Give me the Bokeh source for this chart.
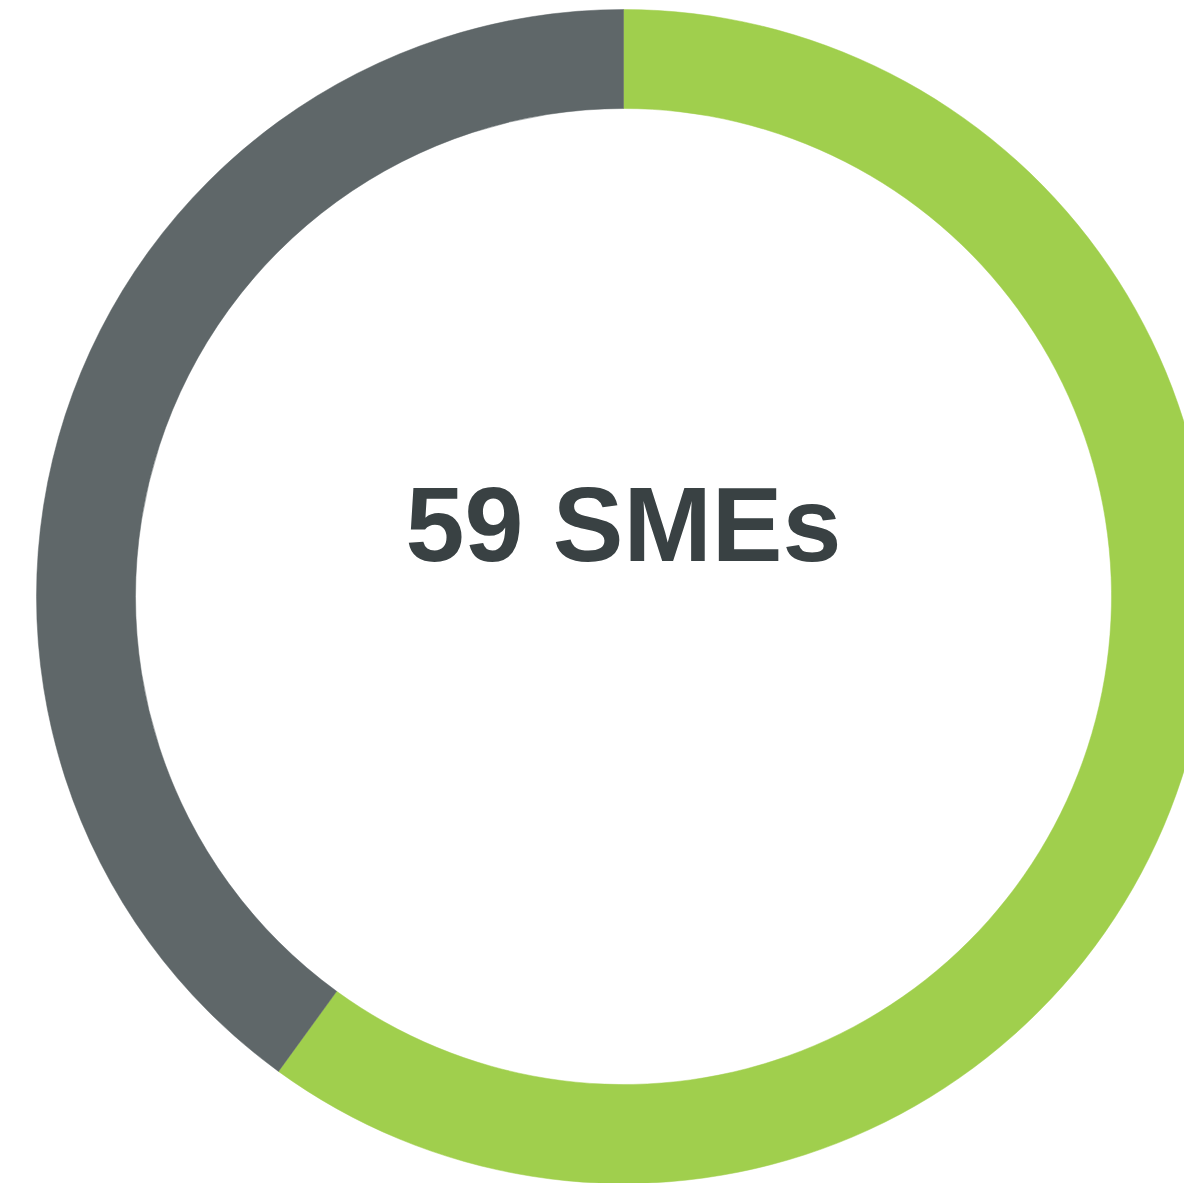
import numpy as np
from bokeh.plotting import figure
from bokeh.models import Range1d, ColumnDataSource
from bokeh.core.properties import value
from bokeh.embed import file_html
from bokeh.resources import INLINE

# Data
categories = ["Share A", "Share B"]
values = [60, 40]
colors = ["#A0CF4D", "#5F6769"]
center_label = "59 SMEs"

W, H = 1184, 1183
cx, cy = 623, 596  # centre in plot pixels from top-left

p = figure(width=W, height=H, output_backend="svg", toolbar_location=None,
           x_range=Range1d(-cx, W - cx), y_range=Range1d(-(H - cy), cy),
           min_border=0)
p.axis.visible = False
p.grid.visible = False
p.outline_line_color = None
p.background_fill_color = "white"
p.border_fill_color = "white"

vals = np.array(values, dtype=float)
frac = vals / vals.sum()
cum = np.concatenate([[0], np.cumsum(frac)])
start = np.pi / 2 - cum[:-1] * 2 * np.pi
end = np.pi / 2 - cum[1:] * 2 * np.pi

src = ColumnDataSource(dict(cat=categories, start=start, end=end, color=colors))
p.annular_wedge(x=0, y=0, inner_radius=488, outer_radius=587,
                start_angle="start", end_angle="end", direction="clock",
                fill_color="color", line_color="color", line_width=0.5, source=src)

p.text(x=[0], y=[73], text=[center_label], text_font=value("Liberation Sans"),
       text_font_style="bold", text_font_size="106px", text_color="#394143",
       text_align="center", text_baseline="alphabetic")

open("out.html", "w").write(file_html(p, INLINE))
